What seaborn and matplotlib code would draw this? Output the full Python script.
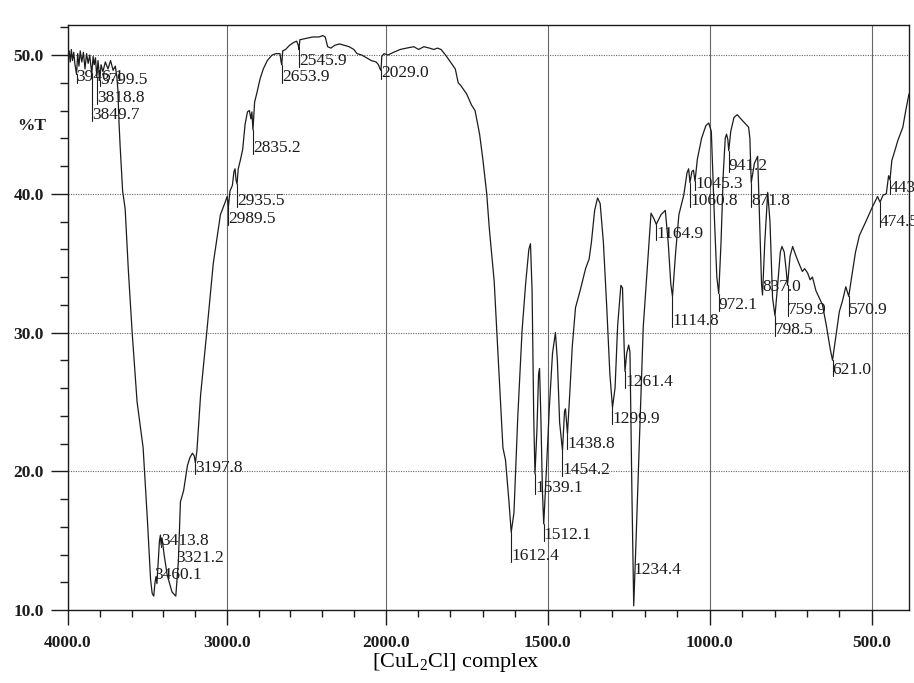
import numpy as np
import pandas as pd
import matplotlib
matplotlib.use("Agg")
import matplotlib.pyplot as plt
from matplotlib.ticker import FixedLocator, FixedFormatter
import seaborn as sns

# ---------------- data ----------------
wavenumber = [
    4000, 3993, 3986, 3979, 3972, 3964, 3956, 3946.1, 3939, 3931, 3923, 3913, 3903, 3893,
    3883, 3873, 3863, 3856, 3849.7, 3842, 3835, 3827, 3818.8, 3811, 3805, 3799.5, 3792,
    3780, 3765, 3748, 3732, 3716, 3702, 3692, 3686, 3679, 3672, 3656, 3640, 3620, 3596,
    3565, 3527, 3500, 3480, 3470, 3460.1, 3452, 3446, 3440, 3432, 3424, 3418, 3413.8,
    3408, 3395, 3375, 3345, 3321.2, 3305, 3292, 3272, 3248, 3232, 3216, 3205, 3197.8,
    3188, 3165, 3123, 3085, 3040, 3010, 2998, 2989.5, 2980, 2965, 2955, 2948, 2942,
    2935.5, 2928, 2915, 2900, 2885, 2870, 2858, 2848, 2842, 2835.2, 2825, 2810, 2790,
    2770, 2745, 2715, 2690, 2665, 2658, 2653.9, 2648, 2630, 2605, 2580, 2560, 2550,
    2545.9, 2540, 2500, 2460, 2420, 2395, 2380, 2365, 2345, 2320, 2290, 2260, 2230,
    2200, 2180, 2150, 2120, 2090, 2060, 2045, 2035, 2029.0, 2024, 2010, 1993, 1975,
    1955, 1935, 1913, 1898, 1882, 1865, 1851, 1840, 1829, 1815, 1800, 1785, 1776, 1768,
    1750, 1735, 1724, 1710, 1700, 1688, 1680, 1665, 1650, 1638, 1630, 1620, 1612.4,
    1604, 1592, 1579, 1568, 1558, 1553, 1548, 1543, 1539.1, 1533, 1528, 1525, 1521,
    1516, 1512.1, 1504, 1495, 1485, 1476, 1470, 1463, 1454.2, 1448, 1445, 1438.8, 1432,
    1424, 1414, 1400, 1383, 1372, 1365, 1355, 1346, 1338, 1328, 1318, 1308, 1299.9,
    1292, 1284, 1274, 1269, 1264, 1261.4, 1256, 1250, 1246, 1240, 1234.4, 1228, 1220,
    1205, 1190, 1181, 1172, 1164.9, 1150, 1137, 1128, 1120, 1114.8, 1105, 1095, 1080,
    1070, 1065, 1060.8, 1055, 1050, 1045.3, 1038, 1025, 1012, 1003, 995, 985, 978,
    972.1, 965, 958, 952, 948, 944, 941.2, 935, 925, 915, 900, 888, 880, 876, 871.8,
    862, 852, 846, 840, 837.0, 830, 821, 814, 806, 798.5, 790, 782, 777, 770, 764,
    759.9, 752, 744, 735, 725, 714, 707, 698, 690, 683, 672, 652, 640, 628, 621.0, 612,
    600, 590, 580, 575, 570.9, 562, 550, 538, 520, 497, 482, 474.5, 465, 455, 448,
    443.6, 438, 430, 420, 404, 395, 385,
]
transmittance = [
    49.8, 50.3, 49.5, 50.4, 49.6, 50.2, 49.3, 48.6, 50.1, 49.2, 50.3, 49.5, 50.2, 49.0,
    50.1, 49.4, 50.0, 49.2, 48.7, 49.9, 49.3, 49.8, 48.4, 49.6, 48.9, 48.2, 49.3,
    48.8, 49.5, 49.0, 49.6, 48.9, 49.2, 48.4, 47.5, 45.2, 43.5, 40.2, 38.9, 34.5, 30.0,
    25.0, 21.7, 16.5, 12.2, 11.2, 11.0, 12.0, 12.4, 11.9, 13.5, 15.0, 15.4, 14.7,
    15.2, 14.0, 12.5, 11.3, 11.0, 13.5, 17.8, 18.6, 20.4, 21.0, 21.3, 21.1, 20.6,
    21.5, 25.5, 30.4, 35.0, 38.5, 39.4, 39.8, 39.1, 40.2, 40.6, 41.6, 41.8, 41.0,
    40.7, 41.8, 42.4, 43.2, 45.0, 45.9, 46.0, 45.4, 45.9, 44.6, 46.6, 47.3, 48.3,
    49.0, 49.6, 50.0, 50.1, 50.1, 49.5, 49.3, 50.3, 50.4, 50.7, 50.9, 51.0, 50.7,
    50.4, 51.1, 51.2, 51.3, 51.3, 51.4, 51.3, 50.6, 50.5, 50.7, 50.8, 50.7, 50.6,
    50.4, 50.1, 50.0, 49.8, 49.6, 49.5, 49.3, 49.0, 48.9, 49.9, 50.1, 50.0, 50.2,
    50.4, 50.5, 50.6, 50.4, 50.6, 50.5, 50.4, 50.5, 50.4, 50.0, 49.5, 49.0, 48.0, 47.8,
    47.2, 46.4, 46.0, 44.3, 42.5, 40.0, 37.5, 33.7, 27.0, 21.7, 20.8, 18.0, 15.6,
    17.0, 24.0, 30.1, 33.5, 36.0, 36.4, 33.0, 24.0, 19.8, 23.0, 27.0, 27.4, 24.0,
    18.5, 16.2, 20.0, 24.5, 28.5, 30.0, 28.0, 23.5, 21.5, 24.3, 24.5, 22.7, 25.5,
    29.0, 31.8, 33.0, 34.6, 35.3, 36.5, 38.8, 39.7, 39.3, 36.5, 32.0, 27.0, 24.6,
    26.0, 30.5, 33.4, 33.2, 29.0, 27.2, 28.5, 29.1, 28.6, 18.5, 10.3, 14.5, 20.0,
    30.4, 35.5, 38.6, 38.2, 37.8, 38.5, 38.8, 36.5, 33.5, 32.6, 35.8, 38.5, 39.9,
    41.5, 41.8, 40.8, 41.6, 41.7, 40.9, 42.5, 44.0, 44.9, 45.1, 44.5, 38.0, 34.0,
    32.8, 36.5, 41.5, 44.0, 44.3, 43.9, 43.1, 44.5, 45.5, 45.7, 45.3, 45.0, 44.8, 44.0, 40.8,
    42.2, 42.7, 38.0, 33.5, 32.7, 36.5, 40.1, 38.0, 32.5, 31.2, 33.5, 35.8, 36.2, 35.8, 34.5,
    33.4, 35.5, 36.2, 35.6, 35.0, 34.4, 34.6, 34.3, 33.8, 34.0, 33.0, 32.0, 30.5, 28.8, 28.0, 29.5,
    31.5, 32.3, 33.3, 32.9, 32.6, 34.0, 35.8, 37.0, 37.9, 39.1, 39.8, 39.4, 39.9, 40.0, 41.3,
    41.0, 42.4, 43.0, 43.8, 44.8, 46.0, 47.2,
]

peak_wavenumbers = [
    3946.1, 3849.7, 3818.8, 3799.5, 3460.1, 3413.8, 3321.2, 3197.8, 2989.5, 2935.5,
    2835.2, 2653.9, 2545.9, 2029.0, 1612.4, 1539.1, 1512.1, 1454.2, 1438.8, 1299.9,
    1261.4, 1234.4, 1164.9, 1114.8, 1060.8, 1045.3, 972.1, 941.2, 871.8, 837.0,
    798.5, 759.9, 621.0, 570.9, 474.5, 443.6,
]
# vertical level (%T) at which each peak label is printed (layout)
peak_label_levels = [
    48.4, 45.7, 46.9, 48.2, 12.5, 15.0, 13.75, 20.2, 38.2, 39.5,
    43.3, 48.4, 49.6, 48.7, 13.9, 18.8, 15.4, 20.1, 22.0, 23.8,
    26.4, 12.9, 37.1, 30.8, 39.5, 40.7, 32.0, 42.0, 39.5, 33.3,
    30.2, 31.6, 27.3, 31.6, 38.0, 40.4,
]

x_major = [4000, 3000, 2000, 1500, 1000, 500]
x_minor = [3800, 3600, 3400, 3200, 2800, 2600, 2400, 2200,
           1900, 1800, 1700, 1600, 1400, 1300, 1200, 1100,
           900, 800, 700, 600]
y_major = [10, 20, 30, 40, 50]
y_minor = [12, 14, 16, 18, 22, 24, 26, 28, 32, 34, 36, 38, 42, 44, 46, 48, 52]

# ---------------- style ----------------
sns.set_theme(style="ticks")
plt.rcParams['font.family'] = ['Liberation Serif', 'DejaVu Serif']
plt.rcParams['mathtext.fontset'] = 'custom'
plt.rcParams['mathtext.rm'] = 'Liberation Serif'
plt.rcParams['mathtext.it'] = 'Liberation Serif:italic'

INK = "#1c1c1c"

fig = plt.figure(figsize=(9.14, 6.83), dpi=100)
ax = fig.add_axes([68 / 914, 1 - 610 / 683, (909 - 68) / 914, (610 - 24.5) / 683])

df = pd.DataFrame({"wavenumber": wavenumber, "T": transmittance})
sns.lineplot(data=df, x="wavenumber", y="T", ax=ax, color=INK, linewidth=0.9,
             sort=False, estimator=None)


# IR chart: scale changes at 2000 cm-1 (4000-2000 compressed by about one half)
def fwd(w):
    w = np.asarray(w, dtype=float)
    return np.where(w > 2000, 2000 + (w - 2000) * 0.49, w)


def inv(u):
    u = np.asarray(u, dtype=float)
    return np.where(u > 2000, 2000 + (u - 2000) / 0.49, u)


ax.set_xscale('function', functions=(fwd, inv))
ax.set_xlim(4000, 385)
ax.set_ylim(10, 52.2)

ax.xaxis.set_major_locator(FixedLocator(x_major))
ax.xaxis.set_major_formatter(FixedFormatter([f"{v:.1f}" for v in x_major]))
ax.xaxis.set_minor_locator(FixedLocator(x_minor))
ax.yaxis.set_major_locator(FixedLocator(y_major))
ax.yaxis.set_major_formatter(FixedFormatter([f"{v:.1f}" for v in y_major]))
ax.yaxis.set_minor_locator(FixedLocator(y_minor))

ax.tick_params(axis='x', which='major', direction='out', length=11, width=1.0,
               color=INK, pad=7, labelsize=12.5)
ax.tick_params(axis='x', which='minor', direction='out', length=5, width=1.0, color=INK)
ax.tick_params(axis='y', which='major', direction='out', length=12.5, width=1.0,
               color=INK, pad=5, labelsize=12.5)
ax.tick_params(axis='y', which='minor', direction='out', length=6, width=1.0, color=INK)
for lab in ax.get_xticklabels() + ax.get_yticklabels():
    lab.set_fontweight('bold')
    lab.set_color(INK)

ax.set_axisbelow(True)
ax.grid(axis='x', which='major', color='0.4', linewidth=0.8, linestyle='-')
ax.grid(axis='y', which='major', color='0.4', linewidth=0.8, linestyle=(0, (1, 1.2)))

for s in ax.spines.values():
    s.set_visible(True)
    s.set_color(INK)
    s.set_linewidth(1.0)

ax.set_xlabel("")
ax.set_ylabel("")

# ---------------- peak labels with leader lines ----------------
wn_asc = np.array(wavenumber)[::-1]
t_asc = np.array(transmittance)[::-1]
for w, lev in zip(peak_wavenumbers, peak_label_levels):
    t_min = float(np.interp(w, wn_asc, t_asc))
    bottom = lev - 0.43
    if bottom < t_min:
        ax.plot([w, w], [t_min, bottom], color=INK, linewidth=0.8)
    ax.text(w, lev, f"{w:.1f}", ha='left', va='center', fontsize=12.5,
            color=INK, clip_on=False)

fig.text(32 / 914, 1 - 126 / 683, "%T", ha='center', va='center',
         fontsize=12.5, fontweight='bold', color=INK)
fig.text(456 / 914, 1 - 663 / 683, r"[CuL$_2$Cl] complex", ha='center', va='center',
         fontsize=16, color='black')

fig.savefig("out.png", dpi=100)
